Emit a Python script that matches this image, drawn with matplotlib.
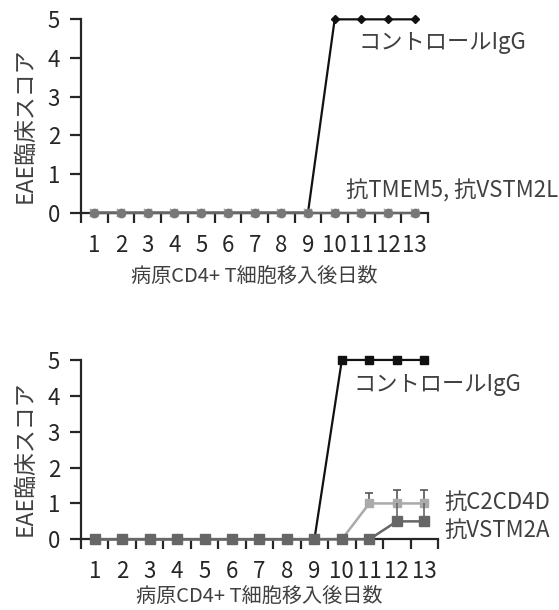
import matplotlib
matplotlib.use("Agg")
import matplotlib.pyplot as plt

plt.rcParams['font.family'] = ['Noto Sans CJK JP', 'DejaVu Sans']

# data
days = [1, 2, 3, 4, 5, 6, 7, 8, 9, 10, 11, 12, 13]
day_labels = ['1', '2', '3', '4', '5', '6', '7', '8', '9', '10', '11', '12', '13']

# upper panel
ctrl_top = [0, 0, 0, 0, 0, 0, 0, 0, 0, 5, 5, 5, 5]
tmem5 = [0, 0, 0, 0, 0, 0, 0, 0, 0, 0, 0, 0, 0]
vstm2l = [0, 0, 0, 0, 0, 0, 0, 0, 0, 0, 0, 0, 0]

# lower panel
ctrl_bot = [0, 0, 0, 0, 0, 0, 0, 0, 0, 5, 5, 5, 5]
c2cd4d = [0, 0, 0, 0, 0, 0, 0, 0, 0, 0, 1, 1, 1]
c2cd4d_err = [0, 0, 0, 0, 0, 0, 0, 0, 0, 0, 0.28, 0.37, 0.37]
vstm2a = [0, 0, 0, 0, 0, 0, 0, 0, 0, 0, 0, 0.5, 0.5]
vstm2a_err = [0, 0, 0, 0, 0, 0, 0, 0, 0, 0, 0, 0.5, 0.5]

xlabel = '病原CD4+ T細胞移入後日数'
ylabel = 'EAE臨床スコア'
txt_col = '#404040'
ax_col = '#262626'

fig = plt.figure(figsize=(5.59, 6.10), dpi=100)
ax1 = fig.add_axes([0.1449, 0.6513, 0.621, 0.317])
ax2 = fig.add_axes([0.1449, 0.1159, 0.6386, 0.294])


def style_axis(ax, xpad):
    ax.set_xlim(0.5, 13.5)
    ax.set_ylim(0, 5)
    for s in ['top', 'right']:
        ax.spines[s].set_visible(False)
    for s in ['left', 'bottom']:
        ax.spines[s].set_linewidth(1.6)
        ax.spines[s].set_color(ax_col)
    ax.set_yticks([0, 1, 2, 3, 4, 5])
    ax.set_xticks(days)
    ax.set_xticklabels(day_labels)
    ax.set_xticks([d + 0.5 for d in [0] + days], minor=True)
    ax.tick_params(axis='y', length=8, width=1.6, color=ax_col, pad=7,
                   labelsize=16, labelcolor=ax_col)
    ax.tick_params(axis='x', which='major', length=0, pad=15,
                   labelsize=16, labelcolor=ax_col)
    ax.tick_params(axis='x', which='minor', length=7, width=1.6, color=ax_col)
    ax.set_xlabel(xlabel, fontsize=14.5, color=txt_col, labelpad=xpad)
    ax.set_ylabel(ylabel, fontsize=16.5, color=txt_col)
    w = ax.get_position().width * 559
    ax.yaxis.set_label_coords(-44 / w, 0.45)


# upper panel
ax1.plot(days, ctrl_top, color='#111111', lw=1.6, marker='D', ms=4.5,
         clip_on=False, zorder=3)
ax1.plot(days, vstm2l, color='#777777', lw=1.6, marker='x', ms=6,
         mec='#aaaaaa', mew=1.5, clip_on=False, zorder=4)
ax1.plot(days, tmem5, color='#666666', lw=1.6, marker='o', ms=6,
         mfc='#777777', mec='#777777', clip_on=False, zorder=5)
ax1.text(10.91, 4.39, 'コントロールIgG', fontsize=16, color=txt_col,
         va='center', ha='left')
ax1.text(10.42, 0.57, '抗TMEM5, 抗VSTM2L', fontsize=16, color=txt_col,
         va='center', ha='left', clip_on=False)
style_axis(ax1, 7)

# lower panel
ax2.plot(days, ctrl_bot, color='#111111', lw=1.6, marker='s', ms=6,
         clip_on=False, zorder=3)
ax2.errorbar(days, c2cd4d, yerr=[[0] * 13, c2cd4d_err], color='#aaaaaa',
             lw=1.8, marker='s', ms=6, ecolor='#555555', elinewidth=1.2,
             capsize=3, capthick=1.2, clip_on=False, zorder=4)
ax2.errorbar(days, vstm2a, yerr=[[0] * 13, vstm2a_err], color='#666666',
             lw=1.8, marker='s', ms=6.5, ecolor='#666666', elinewidth=1.2,
             capsize=0, clip_on=False, zorder=5)
ax2.text(10.44, 4.32, 'コントロールIgG', fontsize=16, color=txt_col,
         va='center', ha='left')
ax2.text(13.72, 1.04, '抗C2CD4D', fontsize=16, color=txt_col,
         va='center', ha='left', clip_on=False)
ax2.text(13.72, 0.26, '抗VSTM2A', fontsize=16, color=txt_col,
         va='center', ha='left', clip_on=False)
style_axis(ax2, 2)

fig.savefig('out.png', dpi=100)
